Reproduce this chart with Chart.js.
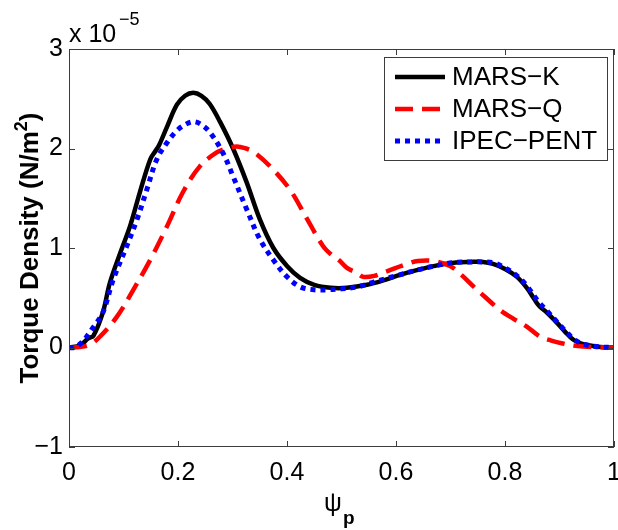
<!DOCTYPE html>
<html>
<head>
<meta charset="utf-8">
<script src="https://cdn.jsdelivr.net/npm/chart.js@4/dist/chart.umd.min.js"></script>
<style>
  body { margin: 0; background: #fff; }
  #wrap { width: 618px; height: 530px; }
</style>
</head>
<body>
<div id="wrap"><canvas id="torqueChart" width="618" height="530"></canvas></div>
<script>
// torque density values are in units of 1e-5 N/m^2
const psiK = [0, 0.02, 0.035, 0.045, 0.062, 0.075, 0.094, 0.112, 0.13, 0.149, 0.158, 0.165, 0.18, 0.198, 0.213, 0.228, 0.243, 0.258, 0.277, 0.301, 0.326, 0.35, 0.375, 0.4, 0.424, 0.45, 0.48, 0.51, 0.547, 0.58, 0.607, 0.64, 0.68, 0.71, 0.736, 0.76, 0.778, 0.8, 0.822, 0.84, 0.851, 0.858, 0.864, 0.875, 0.895, 0.91, 0.925, 0.94, 0.956, 0.975, 1.0];
const marsK = [0, 0.02, 0.09, 0.12, 0.35, 0.65, 0.95, 1.22, 1.56, 1.89, 1.97, 2.03, 2.22, 2.44, 2.53, 2.56, 2.53, 2.45, 2.27, 2.0, 1.66, 1.29, 1.0, 0.82, 0.7, 0.63, 0.6, 0.6, 0.63, 0.68, 0.73, 0.78, 0.83, 0.855, 0.86, 0.86, 0.84, 0.79, 0.71, 0.6, 0.51, 0.45, 0.41, 0.36, 0.25, 0.16, 0.08, 0.04, 0.02, 0.005, 0];

const psiQ = [0, 0.02, 0.039, 0.057, 0.088, 0.118, 0.149, 0.18, 0.209, 0.24, 0.271, 0.29, 0.308, 0.325, 0.338, 0.369, 0.405, 0.437, 0.466, 0.484, 0.495, 0.51, 0.528, 0.54, 0.56, 0.58, 0.6, 0.62, 0.64, 0.668, 0.699, 0.72, 0.741, 0.765, 0.79, 0.815, 0.84, 0.864, 0.885, 0.906, 0.925, 0.943, 0.97, 1.0];
const marsQ = [0, 0.005, 0.03, 0.11, 0.31, 0.58, 0.88, 1.22, 1.56, 1.82, 1.96, 2.0, 2.02, 2.0, 1.97, 1.82, 1.59, 1.29, 1.02, 0.92, 0.88, 0.8, 0.75, 0.71, 0.72, 0.76, 0.8, 0.84, 0.87, 0.87, 0.82, 0.73, 0.62, 0.5, 0.38, 0.29, 0.21, 0.11, 0.07, 0.04, 0.02, 0.01, 0.003, 0];

const psiP = [0, 0.01, 0.025, 0.044, 0.062, 0.081, 0.106, 0.125, 0.143, 0.161, 0.18, 0.198, 0.213, 0.228, 0.243, 0.259, 0.283, 0.301, 0.326, 0.35, 0.375, 0.4, 0.424, 0.45, 0.473, 0.5, 0.53, 0.56, 0.6, 0.64, 0.68, 0.71, 0.736, 0.76, 0.78, 0.8, 0.822, 0.84, 0.86, 0.875, 0.895, 0.91, 0.925, 0.94, 0.956, 0.975, 1.0];
const ipecPent = [0, 0, 0.06, 0.2, 0.35, 0.68, 1.02, 1.29, 1.59, 1.89, 2.06, 2.18, 2.24, 2.27, 2.24, 2.16, 1.95, 1.72, 1.39, 1.09, 0.88, 0.71, 0.61, 0.58, 0.58, 0.59, 0.61, 0.66, 0.72, 0.78, 0.83, 0.855, 0.86, 0.86, 0.85, 0.8, 0.72, 0.62, 0.47, 0.38, 0.26, 0.17, 0.09, 0.04, 0.02, 0.005, 0];

const xTicks = [0, 0.2, 0.4, 0.6, 0.8, 1];
const yTicks = [-1, 0, 1, 2, 3];

const FONT = "'Liberation Sans', Arial, Helvetica, sans-serif";
const pts = (xs, ys) => xs.map((x, i) => ({ x: x, y: ys[i] }));

// box, inward ticks, axis titles, exponent and legend like the MATLAB figure
const matlabFrame = {
  id: 'matlabFrame',
  afterDraw(chart) {
    const { ctx, chartArea: a, scales } = chart;
    ctx.save();
    ctx.strokeStyle = '#3c3c3c';
    ctx.lineWidth = 1;
    ctx.strokeRect(a.left + 0.5, a.top + 0.5, a.right - a.left - 1, a.bottom - a.top - 1);
    ctx.beginPath();
    xTicks.forEach(v => {
      const px = Math.round(scales.x.getPixelForValue(v)) + 0.5;
      ctx.moveTo(px, a.bottom); ctx.lineTo(px, a.bottom - 6);
      ctx.moveTo(px, a.top); ctx.lineTo(px, a.top + 6);
    });
    yTicks.forEach(v => {
      const py = Math.round(scales.y.getPixelForValue(v)) + 0.5;
      ctx.moveTo(a.left, py); ctx.lineTo(a.left + 6, py);
      ctx.moveTo(a.right, py); ctx.lineTo(a.right - 6, py);
    });
    ctx.stroke();

    ctx.fillStyle = '#000';
    // exponent
    ctx.textBaseline = 'alphabetic';
    ctx.textAlign = 'left';
    ctx.font = '25px ' + FONT;
    ctx.fillText('x 10', 69, 42);
    ctx.font = '18px ' + FONT;
    ctx.fillText('\u22125', 119, 25);

    // y title
    ctx.save();
    ctx.translate(38, (a.top + a.bottom) / 2);
    ctx.rotate(-Math.PI / 2);
    ctx.font = 'bold 26px ' + FONT;
    const main = 'Torque Density (N/m';
    const w1 = ctx.measureText(main).width;
    ctx.font = 'bold 18px ' + FONT;
    const w2 = ctx.measureText('2').width;
    ctx.font = 'bold 26px ' + FONT;
    const w3 = ctx.measureText(')').width;
    let x0 = -(w1 + w2 + w3) / 2;
    ctx.fillText(main, x0, 0);
    ctx.font = 'bold 18px ' + FONT;
    ctx.fillText('2', x0 + w1, -11);
    ctx.font = 'bold 26px ' + FONT;
    ctx.fillText(')', x0 + w1 + w2, 0);
    ctx.restore();

    // x title
    ctx.font = '25px ' + FONT;
    ctx.fillText('\u03c8', 324, 511);
    ctx.font = 'bold 19px ' + FONT;
    ctx.fillText('p', 343, 524);

    // legend
    const lx = 384, ly = 57, lw = 223, lh = 103;
    ctx.fillStyle = '#fff';
    ctx.fillRect(lx, ly, lw, lh);
    ctx.strokeStyle = '#3c3c3c';
    ctx.strokeRect(lx + 0.5, ly + 0.5, lw, lh);
    const rows = [77, 109, 141];
    chart.data.datasets.forEach((ds, i) => {
      const y = rows[i];
      ctx.strokeStyle = ds.borderColor;
      ctx.lineWidth = ds.borderWidth;
      ctx.setLineDash(ds.borderDash || []);
      ctx.beginPath();
      ctx.moveTo(395, y); ctx.lineTo(445, y);
      ctx.stroke();
      ctx.setLineDash([]);
      ctx.fillStyle = '#000';
      ctx.font = '26px ' + FONT;
      ctx.textBaseline = 'middle';
      ctx.fillText(ds.label, 452, y + 1);
    });
    ctx.restore();
  }
};

new Chart(document.getElementById('torqueChart'), {
  type: 'line',
  data: {
    datasets: [
      { label: 'MARS\u2212K', data: pts(psiK, marsK), borderColor: '#000000', borderWidth: 4.5, order: 3 },
      { label: 'MARS\u2212Q', data: pts(psiQ, marsQ), borderColor: '#ff0000', borderWidth: 4.5, borderDash: [18, 9], order: 2 },
      { label: 'IPEC\u2212PENT', data: pts(psiP, ipecPent), borderColor: '#0000ff', borderWidth: 5, borderDash: [5, 5], order: 1 },
    ],
  },
  options: {
    responsive: false,
    animation: false,
    elements: { point: { radius: 0 }, line: { borderCapStyle: 'butt', fill: false, tension: 0.35 } },
    layout: { padding: { top: 49, right: 4, left: 0, bottom: 0 } },
    plugins: { legend: { display: false }, tooltip: { enabled: false } },
    scales: {
      x: {
        type: 'linear', min: 0, max: 1,
        grid: { display: false, drawTicks: false },
        border: { display: false },
        afterBuildTicks: s => { s.ticks = xTicks.map(v => ({ value: v })); },
        afterFit: s => { s.height = 83; s.paddingLeft = 0; s.paddingRight = 0; },
        ticks: { color: '#000', padding: 11, maxRotation: 0, font: { family: FONT, size: 25 },
          callback: v => String(v) },
      },
      y: {
        type: 'linear', min: -1, max: 3,
        grid: { display: false, drawTicks: false },
        border: { display: false },
        afterBuildTicks: s => { s.ticks = yTicks.map(v => ({ value: v })); },
        afterFit: s => { s.width = 69; s.paddingTop = 0; s.paddingBottom = 0; },
        ticks: { color: '#000', padding: 6, font: { family: FONT, size: 25 },
          callback: v => String(v).replace('-', '\u2212') },
      },
    },
  },
  plugins: [matlabFrame],
});
</script>
</body>
</html>
